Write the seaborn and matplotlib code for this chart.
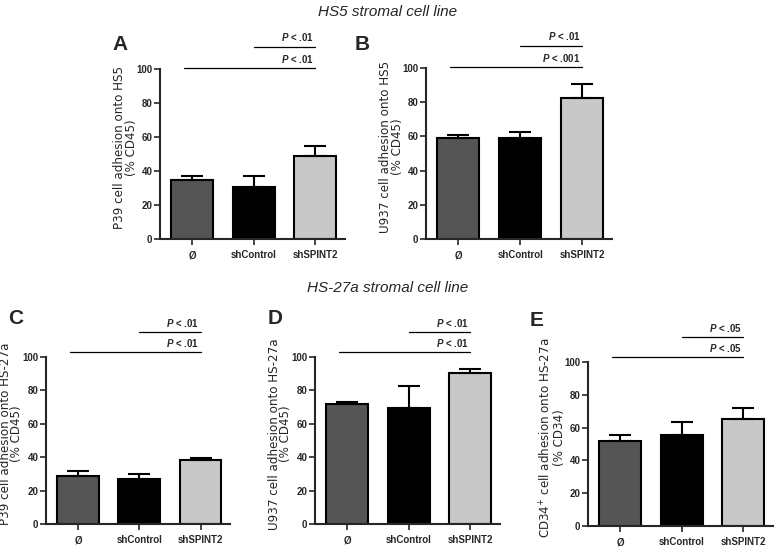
import pandas as pd
import matplotlib.pyplot as plt
import seaborn as sns

sns.set_style("ticks")
plt.rcParams['font.family'] = ['Liberation Sans', 'DejaVu Sans']
plt.rcParams['mathtext.fontset'] = 'custom'
plt.rcParams['mathtext.it'] = 'Liberation Sans:italic:bold'
plt.rcParams['mathtext.rm'] = 'DejaVu Sans'
plt.rcParams['mathtext.bf'] = 'Liberation Sans:bold'

conds = ["Ø", "shControl", "shSPINT2"]
colors = ["#555555", "#000000", "#c8c8c8"]

# mean and upper error for each panel
a_mean = [34.5, 30.8, 48.6]
a_err = [2.4, 6.1, 6.3]
b_mean = [59.1, 58.8, 82.7]
b_err = [2.0, 4.0, 8.2]
c_mean = [28.6, 27.0, 38.2]
c_err = [3.4, 3.2, 1.6]
d_mean = [71.8, 69.6, 90.5]
d_err = [1.4, 13.3, 2.1]
e_mean = [51.6, 55.5, 65.5]
e_err = [4.1, 8.2, 6.3]

a_p = ["P < .01", "P < .01"]
b_p = ["P < .01", "P < .001"]
c_p = ["P < .01", "P < .01"]
d_p = ["P < .01", "P < .01"]
e_p = ["P < .05", "P < .05"]

W, H = 777, 551
fig = plt.figure(figsize=(7.77, 5.51), dpi=100)

def rect(l, r, y0, y100):
    return [l / W, 1 - y0 / H, (r - l) / W, (y0 - y100) / H]

panels = [
    ("A", rect(160, 345, 239, 69), a_mean, a_err, a_p,
     "P39 cell adhesion onto HS5\n(% CD45)", (112, 45), (113, 100.5)),
    ("B", rect(426, 612, 239, 68), b_mean, b_err, b_p,
     "U937 cell adhesion onto HS5\n(% CD45)", (355, 45), (113, 100.5)),
    ("C", rect(46, 230, 524, 357), c_mean, c_err, c_p,
     "P39 cell adhesion onto HS-27a\n(% CD45)", (8, 318), (115, 103)),
    ("D", rect(315, 500, 524, 357), d_mean, d_err, d_p,
     "U937 cell adhesion onto HS-27a\n(% CD45)", (268, 318), (115, 103)),
    ("E", rect(588, 773, 526, 362), e_mean, e_err, e_p,
     "CD34$^{+}$ cell adhesion onto HS-27a\n(% CD34)", (530, 320), (115, 103)),
]

for letter, r, mean, err, plab, ylab, lpos, ylines in panels:
    ax = fig.add_axes(r)
    df = pd.DataFrame({"cond": conds, "val": mean})
    sns.barplot(data=df, x="cond", y="val", hue="cond", order=conds,
                palette=colors, saturation=1, width=0.68, legend=False,
                edgecolor="black", linewidth=1.5, ax=ax)
    ax.errorbar(range(3), mean, yerr=[[0, 0, 0], err], fmt="none",
                ecolor="black", elinewidth=1.5, capsize=8, capthick=1.5)
    ax.set_ylim(0, 100)
    ax.set_xlim(-0.52, 2.48)
    ax.set_yticks([0, 20, 40, 60, 80, 100])
    ax.set_xlabel("")
    ax.set_ylabel(ylab, fontsize=8.6, linespacing=0.85, family="DejaVu Sans")
    ax.yaxis.set_label_coords(-22.5 / (r[2] * W), 0.54)
    ax.tick_params(axis="both", direction="out", length=4, width=1.2,
                   labelsize=7, pad=1.5)
    ax.tick_params(axis="x", pad=4)
    for t in ax.get_xticklabels() + ax.get_yticklabels():
        t.set_fontweight("bold")
    for s in ["left", "bottom"]:
        ax.spines[s].set_linewidth(1.5)
    sns.despine(ax=ax)
    # significance lines
    for (x0, yy, lab) in [(1, ylines[0], plab[0]), (-0.13, ylines[1], plab[1])]:
        ax.plot([x0, 2], [yy, yy], color="black", lw=0.9, clip_on=False)
        ax.text(1.97, yy + 2, "$P$" + lab[1:], ha="right", va="bottom",
                fontsize=7, fontweight="bold", clip_on=False)
    fig.text(lpos[0] / W, 1 - lpos[1] / H, letter, fontsize=15,
             fontweight="bold", ha="left", va="center")

fig.text(388 / W, 1 - 12 / H, "HS5 stromal cell line", fontsize=11,
         style="italic", ha="center", va="center")
fig.text(388 / W, 1 - 288 / H, "HS-27a stromal cell line", fontsize=11,
         style="italic", ha="center", va="center")

fig.savefig("out.png", dpi=100)
